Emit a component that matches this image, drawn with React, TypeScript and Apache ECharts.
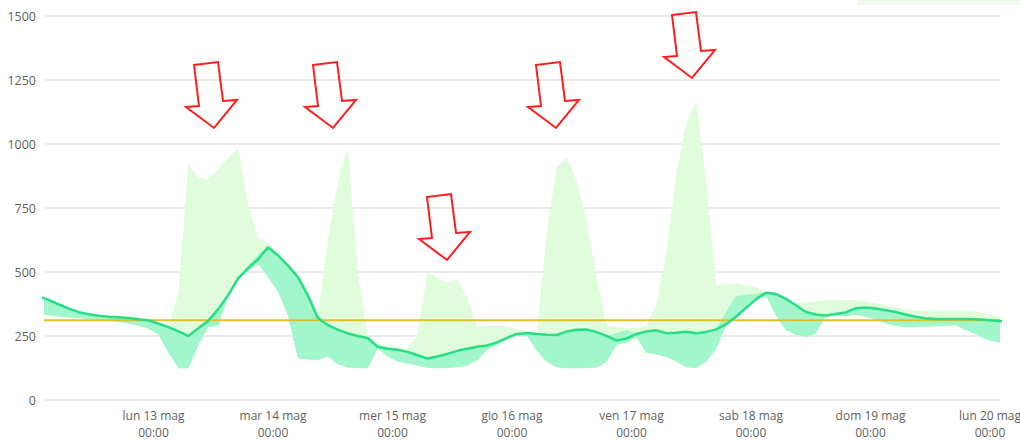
import React, { useEffect, useRef } from "react";
import * as echarts from "echarts";

// Time frame (local time): axis from 12 May 02:00 to 20 May 02:00, samples every 2 h at odd hours
const AXIS_START = new Date(2024, 4, 12, 2, 0, 0).getTime();
const AXIS_END = new Date(2024, 4, 20, 2, 0, 0).getTime();
const FIRST_SAMPLE = new Date(2024, 4, 12, 1, 0, 0).getTime();
const STEP_MS = 2 * 3600 * 1000;

// mean line
const meanValues = [
  405, 390, 373, 357, 343, 335, 329, 325, 323, 320,
  315, 311, 298, 285, 268, 250, 280, 310, 355, 410,
  475, 515, 550, 597, 565, 525, 480, 408, 320, 292,
  275, 260, 250, 242, 208, 200, 196, 188, 175, 162,
  170, 180, 192, 200, 208, 213, 225, 243, 258, 262,
  258, 255, 254, 268, 274, 275, 265, 250, 232, 240,
  258, 268, 272, 261, 263, 267, 261, 266, 276, 296,
  325, 360, 393, 419, 414, 395, 370, 344, 334, 330,
  336, 342, 358, 361, 357, 351, 344, 334, 325, 319,
  316, 316, 316, 316, 315, 313, 310, 306,
];

// inner (dark) band upper edge
const bandHigh = [
  405, 390, 373, 357, 343, 335, 329, 325, 323, 320,
  315, 311, 298, 285, 268, 250, 280, 310, 355, 410,
  475, 525, 568, 600, 565, 525, 480, 408, 320, 292,
  275, 260, 250, 242, 208, 200, 196, 188, 175, 162,
  170, 180, 192, 200, 208, 213, 225, 243, 258, 262,
  258, 255, 254, 268, 274, 275, 265, 250, 262, 272,
  258, 268, 272, 261, 263, 267, 261, 266, 276, 345,
  406, 410, 415, 422, 414, 395, 370, 344, 334, 330,
  336, 342, 358, 361, 357, 351, 344, 334, 325, 319,
  316, 316, 316, 316, 315, 313, 310, 306,
];

// inner (dark) band lower edge
const bandLow = [
  338, 330, 326, 322, 319, 316, 313, 310, 305, 298,
  290, 278, 254, 185, 124, 124, 215, 285, 290, 405,
  470, 505, 530, 480, 423, 330, 163, 158, 156, 170,
  140, 127, 125, 124, 200, 170, 150, 143, 135, 125,
  124, 125, 128, 135, 155, 195, 215, 238, 252, 250,
  190, 148, 128, 124, 124, 125, 127, 150, 215, 225,
  245, 185, 178, 168, 150, 128, 124, 150, 200, 293,
  325, 360, 395, 405, 330, 272, 255, 245, 260, 325,
  330, 327, 332, 325, 314, 300, 290, 284, 284, 286,
  288, 290, 292, 275, 258, 238, 228, 222,
];

// outer (light) band
const maxValues = [
  408, 393, 376, 360, 346, 338, 332, 328, 326, 323,
  318, 314, 301, 288, 420, 920, 870, 862, 903, 945,
  984, 760, 632, 615, 570, 530, 490, 430, 340, 620,
  850, 989, 500, 255, 220, 215, 205, 200, 254, 500,
  475, 458, 470, 400, 285, 290, 292, 287, 278, 268,
  265, 660, 910, 945, 855, 690, 480, 290, 285, 282,
  281, 290, 375, 580, 880, 1080, 1165, 850, 449, 452,
  456, 450, 440, 425, 418, 400, 375, 380, 386, 390,
  392, 391, 391, 385, 378, 372, 362, 355, 348, 348,
  350, 352, 350, 348, 345, 339, 330, 322,
];
const minValues = [
  338, 330, 326, 322, 319, 316, 313, 310, 305, 298,
  290, 278, 254, 185, 124, 124, 215, 285, 290, 405,
  470, 505, 530, 480, 423, 330, 163, 158, 156, 170,
  140, 127, 125, 124, 200, 170, 150, 143, 135, 125,
  124, 125, 128, 135, 155, 195, 215, 238, 252, 250,
  190, 148, 128, 124, 124, 125, 127, 150, 215, 225,
  245, 185, 178, 168, 150, 128, 124, 150, 200, 293,
  325, 360, 395, 405, 330, 272, 255, 245, 260, 325,
  330, 327, 332, 325, 314, 300, 290, 284, 284, 286,
  288, 290, 292, 275, 258, 238, 228, 222,
];

const thresholdValue = 312;
const yTickValues = [0, 250, 500, 750, 1000, 1250, 1500];
const dayNames = ["dom", "lun", "mar", "mer", "gio", "ven", "sab"];
const monthNames = ["gen", "feb", "mar", "apr", "mag", "giu", "lug", "ago", "set", "ott", "nov", "dic"];

// annotation arrows (red outlines drawn on top of the chart)
const arrowShape = [[0, 0], [24, -3], [29, 36], [43, 35], [20, 63], [-8, 42], [5, 41]];
const arrowOrigins = [[194, 65], [313, 65], [427, 197], [536, 65], [672, 15]];

const times = meanValues.map((_, i) => FIRST_SAMPLE + i * STEP_MS);

export default function App() {
  const ref = useRef<HTMLDivElement>(null);

  useEffect(() => {
    document.body.style.margin = "0";
    if (!ref.current) return;
    const chart = echarts.init(ref.current, undefined, { renderer: "svg" });

    const pair = (arr: number[]) => arr.map((v, i) => [times[i], v]);
    const diff = (a: number[], b: number[]) => a.map((v, i) => [times[i], v - b[i]]);

    const hidden = { width: 0, opacity: 0 };

    chart.setOption({
      animation: false,
      textStyle: { fontFamily: "'Open Sans', sans-serif" },
      grid: { left: 44, right: 20, top: 16, bottom: 41, containLabel: false, outerBoundsMode: "none" },
      xAxis: {
        type: "time",
        min: AXIS_START,
        max: AXIS_END,
        minInterval: 86400000,
        maxInterval: 86400000,
        axisLine: { show: false },
        axisTick: { show: false },
        splitLine: { show: false },
        axisLabel: {
          color: "#5f5f5f",
          fontSize: 12,
          lineHeight: 17,
          margin: 7,
          showMinLabel: false,
          showMaxLabel: false,
          hideOverlap: false,
          formatter: (v: number) => {
            const d = new Date(v);
            const hh = String(d.getHours()).padStart(2, "0");
            const mm = String(d.getMinutes()).padStart(2, "0");
            return `${dayNames[d.getDay()]} ${d.getDate()} ${monthNames[d.getMonth()]}\n${hh}:${mm}`;
          },
        },
      },
      yAxis: {
        type: "value",
        min: yTickValues[0],
        max: yTickValues[yTickValues.length - 1],
        interval: yTickValues[1] - yTickValues[0],
        axisLine: { show: false },
        axisTick: { show: false },
        splitLine: { lineStyle: { color: "#e3e3e3", width: 1.5 } },
        axisLabel: { color: "#5f5f5f", fontSize: 12.5, margin: 8, formatter: (v: number) => String(v) },
      },
      series: [
        {
          type: "line", stack: "outer", data: pair(minValues), symbol: "none",
          lineStyle: hidden, silent: true, z: 1,
        },
        {
          type: "line", stack: "outer", data: diff(maxValues, minValues), symbol: "none",
          lineStyle: hidden, areaStyle: { color: "#dffcdb", opacity: 1 }, silent: true, z: 1,
        },
        {
          type: "line", stack: "inner", data: pair(bandLow), symbol: "none",
          lineStyle: hidden, silent: true, z: 2,
        },
        {
          type: "line", stack: "inner", data: diff(bandHigh, bandLow), symbol: "none",
          lineStyle: hidden, areaStyle: { color: "#a2f6cb", opacity: 1 }, silent: true, z: 2,
        },
        {
          type: "line", data: [[AXIS_START, thresholdValue], [AXIS_END, thresholdValue]], symbol: "none",
          lineStyle: { color: "#e2c024", width: 2 }, silent: true, z: 3,
        },
        {
          type: "line", data: pair(meanValues), symbol: "none",
          lineStyle: { color: "#27de86", width: 2.5 }, silent: true, z: 4,
        },
      ],
      graphic: [
        {
          type: "rect", shape: { x: 857, y: 0, width: 163, height: 5 },
          style: { fill: "#f1f8ee" }, silent: true,
        },
        ...arrowOrigins.map(([ox, oy]) => ({
          type: "polygon",
          shape: { points: arrowShape.map(([dx, dy]) => [ox + dx, oy + dy]) },
          style: { fill: "none", stroke: "#ff1e1e", lineWidth: 2 },
          silent: true,
          z: 100,
        })),
      ],
    });

    return () => chart.dispose();
  }, []);

  return <div ref={ref} style={{ width: 1020, height: 441 }} />;
}
